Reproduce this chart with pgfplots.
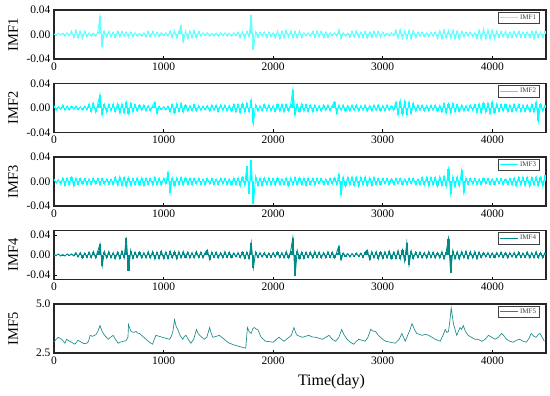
\documentclass[border=0pt]{standalone}
\usepackage{pgfplots}
\usepackage{pgfplotstable}
\pgfplotsset{compat=1.18}
\usepackage{fontspec}
\setmainfont{Liberation Serif}

\definecolor{cA}{HTML}{66FFFF}
\definecolor{cB}{HTML}{00FFFF}
\definecolor{cD}{HTML}{008B8B}
\definecolor{cE}{HTML}{1B8A88}

% IMF values in units of 0.001, one value every 20 days
\pgfplotstableread[header=false,row sep=\\]{
1\\-2\\2\\-1\\2\\-3\\3\\-2\\6\\-5\\
7\\-6\\5\\-7\\6\\-4\\3\\-3\\2\\-3\\
4\\30\\-20\\5\\-4\\5\\-4\\4\\-5\\5\\
-4\\5\\-3\\4\\-5\\4\\-4\\3\\-3\\2\\
-3\\3\\-4\\5\\-4\\5\\-3\\4\\-4\\3\\
-2\\3\\-3\\6\\-5\\7\\-6\\5\\15\\-12\\
6\\-7\\6\\-5\\7\\-6\\5\\-3\\3\\-2\\
3\\-3\\2\\-3\\2\\-3\\3\\-2\\3\\-3\\
2\\-3\\3\\-2\\4\\-5\\5\\-6\\5\\-4\\
32\\-25\\4\\-5\\4\\-3\\4\\-5\\4\\-4\\
3\\-6\\6\\-7\\5\\-6\\7\\-5\\6\\-6\\
5\\-6\\6\\-5\\3\\-2\\3\\-3\\5\\-5\\
6\\-4\\5\\-5\\4\\-5\\3\\-2\\3\\-3\\
8\\-7\\3\\-3\\2\\-5\\5\\-4\\6\\-5\\
4\\-5\\5\\-6\\4\\-5\\5\\-4\\5\\-5\\
4\\-3\\2\\-3\\3\\-2\\7\\-6\\8\\-7\\
6\\-7\\7\\-8\\6\\-5\\4\\-3\\4\\-4\\
3\\-4\\4\\-3\\4\\-7\\6\\-7\\8\\-6\\
7\\-6\\7\\-8\\6\\-7\\5\\-4\\4\\-3\\
4\\-4\\3\\-8\\7\\-8\\9\\-7\\8\\-8\\
7\\-8\\6\\-5\\5\\-4\\5\\-6\\4\\-5\\
5\\-4\\5\\-5\\4\\-5\\4\\-5\\5\\-8\\
6\\-5\\4\\-5\\6\\
}\tA

\pgfplotstableread[header=false,row sep=\\]{
4\\-4\\2\\-2\\5\\-4\\3\\-3\\3\\-2\\
3\\-3\\2\\-3\\3\\-3\\7\\-6\\8\\-7\\
7\\22\\-12\\6\\-7\\6\\-5\\7\\-6\\7\\
-8\\7\\-8\\10\\-9\\8\\-7\\6\\-5\\5\\
-4\\5\\-5\\4\\-5\\4\\10\\-9\\3\\-3\\
2\\-3\\3\\-7\\6\\-8\\7\\-6\\8\\-7\\
5\\-5\\4\\-5\\6\\-5\\4\\-4\\3\\-3\\
4\\-5\\5\\-4\\5\\-6\\5\\-4\\5\\-5\\
4\\-5\\6\\-7\\6\\-8\\7\\-6\\8\\-7\\
13\\-25\\5\\-5\\4\\-5\\6\\-4\\5\\-5\\
4\\-6\\6\\-5\\6\\-7\\6\\-5\\6\\30\\
-12\\6\\-6\\7\\-5\\6\\-6\\5\\-6\\5\\
-5\\4\\-5\\5\\-4\\5\\-5\\4\\10\\-9\\
5\\-4\\5\\-5\\4\\-5\\5\\-4\\5\\-5\\
4\\-4\\5\\-5\\4\\-5\\5\\-4\\5\\-5\\
4\\-5\\5\\-4\\3\\-4\\10\\-11\\12\\-10\\
11\\-12\\10\\-9\\8\\-5\\5\\-4\\5\\-5\\
4\\-5\\5\\-4\\5\\-5\\4\\-7\\8\\-8\\
7\\-8\\8\\-7\\6\\-6\\5\\-5\\4\\-5\\
5\\-4\\6\\-8\\7\\-8\\8\\-7\\8\\-9\\
10\\-8\\7\\-6\\6\\-5\\6\\-6\\5\\-6\\
6\\-5\\6\\-6\\5\\-6\\5\\-6\\6\\-7\\
10\\-22\\6\\-5\\5\\
}\tB

\pgfplotstableread[header=false,row sep=\\]{
4\\-3\\3\\-4\\6\\-7\\6\\-5\\7\\-8\\
6\\-5\\5\\-4\\5\\-5\\4\\-5\\5\\-4\\
5\\-6\\5\\-4\\4\\-5\\4\\-5\\7\\-6\\
8\\-7\\7\\-8\\6\\-7\\5\\-6\\6\\-5\\
6\\-7\\6\\-5\\5\\-6\\7\\-6\\5\\-6\\
5\\-4\\15\\-18\\6\\-7\\6\\-5\\7\\-6\\
6\\-5\\6\\-6\\5\\-4\\5\\-5\\4\\-5\\
5\\-4\\5\\-5\\4\\-5\\5\\-4\\5\\-5\\
4\\-5\\6\\-5\\6\\-8\\7\\-6\\25\\-20\\
35\\-37\\8\\-7\\6\\-7\\6\\-5\\6\\-6\\
5\\-6\\6\\-5\\4\\-5\\6\\-7\\6\\-6\\
7\\-6\\6\\-5\\6\\-7\\6\\-5\\5\\-6\\
5\\-4\\5\\-5\\4\\-5\\5\\-4\\6\\-5\\
12\\-22\\7\\-8\\7\\-6\\8\\-7\\7\\-8\\
7\\-6\\8\\-7\\6\\-7\\7\\-6\\5\\-5\\
5\\-4\\5\\-5\\4\\-5\\5\\-4\\5\\-5\\
4\\-5\\5\\-4\\5\\-5\\4\\-6\\7\\-6\\
7\\-8\\7\\-6\\7\\-8\\8\\-7\\9\\-8\\
20\\-20\\8\\-9\\8\\-7\\18\\-18\\6\\-5\\
5\\-4\\5\\-5\\4\\-5\\5\\-4\\5\\-5\\
4\\-5\\5\\-4\\5\\-5\\4\\-5\\5\\-6\\
6\\-7\\7\\-6\\8\\-7\\7\\-8\\7\\-6\\
8\\-7\\7\\-8\\10\\
}\tC

\pgfplotstableread[header=false,row sep=\\]{
1\\-1\\2\\-2\\1\\-2\\2\\-1\\2\\-2\\
5\\-4\\5\\-6\\4\\-5\\6\\-5\\7\\-6\\
8\\22\\-22\\7\\-6\\7\\-6\\5\\-7\\6\\
-7\\8\\-6\\35\\-32\\9\\-7\\6\\-5\\6\\
-6\\5\\-6\\7\\-6\\7\\-8\\6\\-7\\8\\
-7\\6\\-7\\8\\-6\\7\\-8\\7\\-6\\7\\
-5\\6\\-6\\5\\-6\\7\\-5\\6\\-6\\5\\
10\\-9\\6\\-5\\6\\-6\\5\\-6\\7\\-5\\
6\\-5\\4\\-4\\5\\-5\\6\\-7\\6\\-7\\
25\\-25\\6\\-5\\5\\-4\\5\\-5\\4\\-5\\
5\\-4\\6\\-5\\5\\-6\\7\\-6\\8\\35\\
-42\\9\\-7\\6\\-7\\6\\-5\\6\\-6\\7\\
-5\\6\\-6\\5\\-6\\7\\-5\\6\\-6\\5\\
18\\-10\\4\\-3\\3\\-4\\3\\-3\\4\\-3\\
4\\-5\\6\\10\\-9\\7\\-6\\7\\-8\\6\\
-7\\7\\-6\\8\\-7\\6\\-7\\9\\-8\\10\\
-12\\25\\-20\\8\\-7\\6\\-5\\6\\-6\\5\\
-6\\7\\-5\\6\\-6\\5\\-6\\7\\-8\\7\\
33\\-35\\9\\-8\\7\\-8\\7\\-6\\8\\-7\\
7\\-6\\7\\-8\\6\\-5\\5\\-4\\5\\-5\\
4\\-5\\5\\-4\\6\\-5\\5\\-6\\5\\-4\\
5\\-5\\6\\-5\\4\\-5\\6\\-6\\5\\-6\\
7\\-6\\5\\-6\\5\\
}\tD

\pgfplotsset{
  imf/.style={
    scale only axis, width=492pt, height=49pt,
    xmin=0, xmax=224.5,
    xtick={0,50,100,150,200}, xticklabels={0,1000,2000,3000,4000},
    ymin=-40, ymax=40,
    ytick={-40,0,40}, yticklabels={-0.04,0.00,0.04},
    axis line style={line width=1.1pt, black!85},
    tick align=inside, xtick pos=bottom, ytick pos=left,
    major tick length=3pt,
    tick style={black, line width=0.8pt},
    ticklabel style={font=\fontsize{11.5}{12}\selectfont},
    ylabel style={at={(axis description cs:-0.083,0.5)}, anchor=center,
      font=\fontsize{14.5}{15}\selectfont},
    legend style={at={(axis description cs:0.986,0.966)}, anchor=north east,
      font=\fontsize{7}{7.5}\selectfont, text=black!75, draw=black!75,
      line width=0.6pt, inner sep=0.8pt, row sep=-1pt},
    legend cell align=left,
    legend image code/.code={\draw[##1,line width=0.8pt] (0pt,0pt) -- (18pt,0pt);},
    anchor=north west,
  },
  comb/.style={ycomb, line width=2.1pt, forget plot},
}

\begin{document}
\begin{tikzpicture}
\path (-54pt,10pt) rectangle (496pt,-386pt);

\begin{axis}[imf, at={(0pt,0pt)}, ylabel={IMF1}]
\addplot[cA, comb, line width=1.9pt] table[x expr=\coordindex, y index=0] {\tA};
\addplot[cA, line width=0.9pt] table[x expr=\coordindex, y index=0] {\tA};
\addlegendentry{IMF1}
\end{axis}

\begin{axis}[imf, at={(0pt,-73.5pt)}, ylabel={IMF2}]
\addplot[cB, comb] table[x expr=\coordindex, y index=0] {\tB};
\addplot[cB, line width=0.9pt] table[x expr=\coordindex, y index=0] {\tB};
\addlegendentry{IMF2}
\end{axis}

\begin{axis}[imf, at={(0pt,-147pt)}, ylabel={IMF3}]
\addplot[cB, comb] table[x expr=\coordindex, y index=0] {\tC};
\addplot[cB, line width=0.9pt] table[x expr=\coordindex, y index=0] {\tC};
\addlegendentry{IMF3}
\end{axis}

\begin{axis}[imf, at={(0pt,-220.5pt)}, ylabel={IMF4}, ymin=-49, ymax=49]
\addplot[cD, comb] table[x expr=\coordindex, y index=0] {\tD};
\addplot[cD, line width=0.9pt] table[x expr=\coordindex, y index=0] {\tD};
\addlegendentry{IMF4}
\end{axis}

\begin{axis}[imf, at={(0pt,-294pt)}, ylabel={IMF5},
  xmin=0, xmax=4490, xtick={0,1000,2000,3000,4000},
  ymin=2.5, ymax=5.0, ytick={2.5,5.0}, yticklabels={2.5,5.0},
  xlabel={Time(day)},
  xlabel style={at={(axis description cs:0.564,-0.58)}, anchor=center,
    font=\fontsize{16}{17}\selectfont}]
\addplot[cE, line width=0.65pt] coordinates {
(0,3.05)(20,3.2)(40,3.3)(55,3.25)(70,3.2)(85,3.1)(100,3.0)(115,3.2)(135,3.12)
(160,3.05)(175,3.0)(190,2.95)(205,3.05)(220,3.15)(235,3.1)(250,3.05)(275,2.98)
(300,3.0)(315,3.1)(330,3.4)(350,3.35)(370,3.4)(385,3.45)(400,3.6)(420,3.9)
(435,3.65)(450,3.5)(470,3.35)(495,3.2)(515,3.3)(540,3.4)(560,3.2)(585,3.0)
(605,3.05)(630,3.1)(655,3.12)(675,3.3)(680,3.95)(695,3.7)(705,3.6)(725,3.55)
(750,3.6)(765,3.5)(780,3.5)(800,3.4)(820,3.3)(840,3.2)(870,3.05)(900,2.95)
(915,3.2)(930,3.4)(960,3.35)(990,3.3)(1020,3.25)(1055,3.2)(1070,3.35)(1085,3.6)
(1100,4.2)(1115,3.85)(1130,3.7)(1150,3.4)(1175,3.2)(1190,3.35)(1205,3.4)(1225,3.2)
(1250,3.0)(1275,3.2)(1300,3.7)(1315,3.5)(1330,3.4)(1350,3.3)(1370,3.2)(1395,3.3)
(1420,3.8)(1435,3.5)(1450,3.3)(1480,3.35)(1510,3.4)(1530,3.3)(1555,3.2)(1575,3.1)
(1600,3.0)(1625,2.95)(1650,2.9)(1675,2.86)(1700,2.82)(1725,2.78)(1750,2.75)
(1765,3.8)(1780,3.6)(1800,3.5)(1815,3.75)(1830,3.8)(1845,3.72)(1860,3.7)(1875,3.5)
(1890,3.3)(1910,3.2)(1930,3.1)(1965,3.08)(2000,3.05)(2020,3.15)(2040,3.25)(2055,3.3)
(2075,3.2)(2100,3.1)(2120,3.2)(2145,3.3)(2165,3.4)(2190,3.8)(2205,3.55)(2220,3.4)
(2245,3.35)(2265,3.3)(2295,3.35)(2325,3.4)(2355,3.32)(2390,3.3)(2420,3.25)(2450,3.2)
(2480,3.3)(2510,3.4)(2540,3.2)(2570,3.1)(2600,3.3)(2625,3.7)(2650,3.4)(2675,3.2)
(2705,3.05)(2735,2.95)(2760,3.1)(2780,3.2)(2810,3.15)(2840,3.1)(2865,3.3)(2890,3.7)
(2910,3.62)(2935,3.6)(2960,3.4)(2980,3.3)(3000,3.2)(3025,3.1)(3070,3.05)(3115,3.0)
(3150,3.2)(3175,3.5)(3190,3.3)(3205,3.1)(3220,3.3)(3235,3.5)(3250,3.7)(3267,4.0)
(3290,3.7)(3310,3.5)(3335,3.45)(3360,3.4)(3390,3.45)(3420,3.4)(3450,3.3)(3480,3.2)
(3500,3.15)(3525,3.1)(3550,3.4)(3570,3.7)(3585,3.55)(3600,3.6)(3612,4.1)(3625,4.8)
(3635,4.4)(3645,4.0)(3660,3.7)(3675,3.4)(3690,3.6)(3705,3.8)(3720,3.7)(3735,3.9)
(3755,3.6)(3780,3.4)(3810,3.3)(3840,3.2)(3870,3.2)(3905,3.1)(3935,3.2)(3965,3.4)
(3995,3.3)(4025,3.2)(4055,3.3)(4085,3.5)(4110,3.35)(4130,3.2)(4160,3.1)(4190,3.05)
(4220,3.15)(4250,3.2)(4280,3.1)(4310,3.05)(4335,3.25)(4355,3.5)(4380,3.35)
(4400,3.3)(4420,3.45)(4435,3.5)(4455,3.3)(4475,3.1)
};
\addlegendentry{IMF5}
\end{axis}
\end{tikzpicture}
\end{document}
